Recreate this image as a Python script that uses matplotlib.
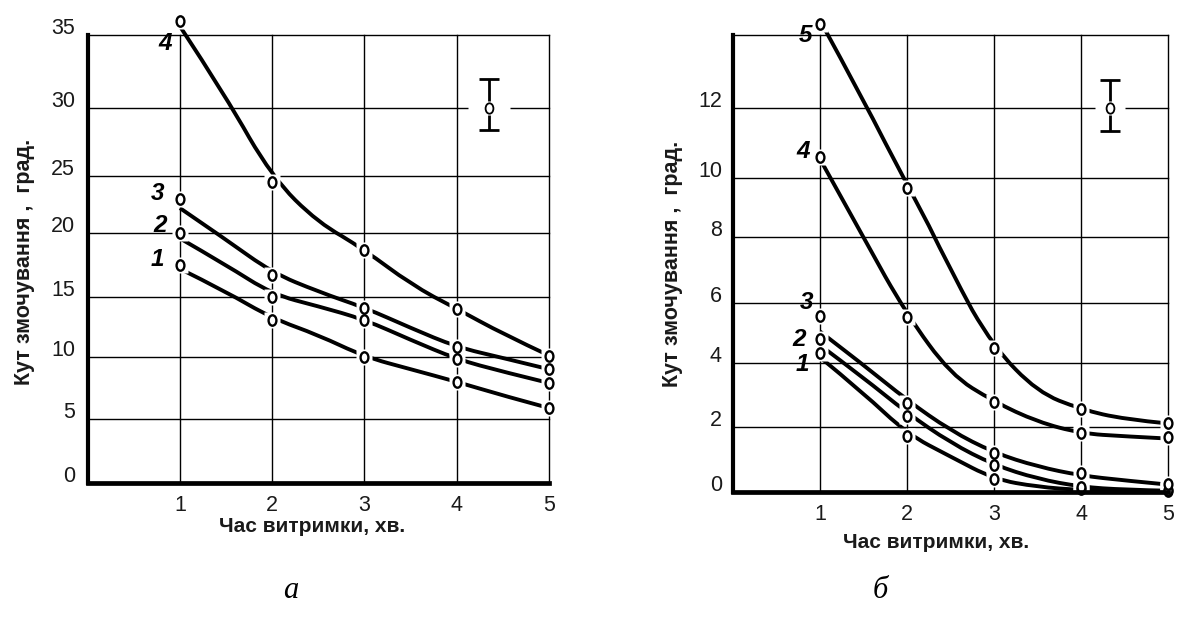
import matplotlib
matplotlib.use("Agg")
import numpy as np
import matplotlib.pyplot as plt
from matplotlib.transforms import ScaledTranslation
from matplotlib.path import Path
from matplotlib.patches import PathPatch

plt.rcParams['font.family'] = ['Liberation Sans', 'DejaVu Sans']

# ---------------- data: panel a ----------------
x_time = [1, 2, 3, 4, 5]                                  # measured points (markers)
x_line = [1, 1.5, 2, 2.5, 3, 3.5, 4, 4.5, 5]              # points

a_pts1 = [17.5, 13.1, 10.0, 8.0, 5.9]
a_pts2 = [20.0, 15.0, 13.1, 9.8, 7.9]
a_pts3 = [23.0, 16.7, 14.1, 10.8, 9.0]
a_pts4 = [36.0, 24.5, 18.7, 14.0, 10.1]

a_line1 = [17.2, 15.4, 13.2, 11.8, 10.0, 9.0, 8.0, 6.9, 5.9]
a_line2 = [19.6, 17.5, 15.2, 14.2, 13.1, 11.4, 9.8, 8.8, 7.9]
a_line3 = [22.2, 19.5, 16.9, 15.4, 14.1, 12.4, 10.8, 9.9, 9.0]
a_line4 = [35.6, 30.8, 24.9, 20.9, 18.7, 16.0, 14.0, 11.9, 10.1]

a_names = ["1", "2", "3", "4"]
a_yticks = [0, 5, 10, 15, 20, 25, 30, 35]
a_err_x, a_err_y, a_err_lo, a_err_hi = 4.35, 30.0, 1.6, 2.0
# spacing of the printed grid (value -> distance from the x-axis, px); it is not uniform
a_grid_vals = [-5, 0, 5, 10, 15, 20, 25, 30, 35, 40]
a_grid_pos = [-64, 0, 63.4, 126, 186, 249.4, 306.7, 374.4, 447.7, 520]

# ---------------- data: panel b ----------------
b_pts1 = [4.33, 1.72, 0.39, 0.08, 0.02]
b_pts2 = [4.8, 2.35, 0.83, 0.15, 0.06]
b_pts3 = [5.56, 2.75, 1.21, 0.57, 0.25]
b_pts4 = [10.62, 5.54, 2.8, 1.81, 1.7]
b_pts5 = [14.3, 9.67, 4.51, 2.56, 2.12]

b_line1 = [4.2, 3.07, 1.8, 1.09, 0.39, 0.15, 0.05, 0.02, 0.0]
b_line2 = [4.6, 3.55, 2.45, 1.52, 0.83, 0.4, 0.15, 0.06, 0.03]
b_line3 = [5.05, 3.95, 2.85, 1.9, 1.21, 0.78, 0.5, 0.35, 0.22]
b_line4 = [10.55, 8.0, 5.6, 3.65, 2.8, 2.17, 1.81, 1.72, 1.65]
b_line5 = [14.4, 12.23, 9.8, 7.0, 4.51, 3.1, 2.56, 2.25, 2.12]

b_names = ["1", "2", "3", "4", "5"]
b_yticks = [0, 2, 4, 6, 8, 10, 12, 14]
b_yticklabels = ["0", "2", "4", "6", "8", "10", "12", ""]
b_err_x, b_err_y, b_err_lo, b_err_hi = 4.33, 12.0, 0.66, 0.76
b_grid_vals = [-2, 0, 2, 4, 6, 8, 10, 12, 14, 16]
b_grid_pos = [-64.3, 0, 64.4, 128.4, 189, 254.4, 313.4, 383.4, 456.7, 529.7]

xticks = [1, 2, 3, 4, 5]
ylabel = "Кут змочування ,  град."
xlabel = "Час витримки, хв."

W, H = 1178, 621
fig = plt.figure(figsize=(W / 100, H / 100), dpi=100)
ax1 = fig.add_axes([87.7 / W, (H - 482.7) / H, (549 - 87.7) / W, (482.7 - 35) / H])
ax2 = fig.add_axes([733 / W, (H - 491.7) / H, (1168 - 733) / W, (491.7 - 35) / H])


def style(ax, ymax, yticks, yticklabels, ypad, gvals, gpos):
    gv = np.asarray(gvals, float)
    gp = np.asarray(gpos, float)
    ax.set_yscale("function", functions=(lambda v: np.interp(v, gv, gp),
                                         lambda u: np.interp(u, gp, gv)))
    ax.set_xlim(0, 5)
    ax.set_ylim(0, ymax)
    ax.set_xticks(xticks)
    ax.set_yticks(yticks)
    ax.set_yticklabels(yticklabels)
    ax.yaxis.set_minor_locator(matplotlib.ticker.NullLocator())
    for s in ["top", "right"]:
        ax.spines[s].set_visible(False)
    ax.spines["left"].set_linewidth(3.0)
    ax.spines["bottom"].set_linewidth(3.4)
    ax.spines["left"].set_zorder(6)
    ax.spines["bottom"].set_zorder(6)
    ax.tick_params(length=0, labelsize=15.5, colors="#1a1a1a")
    ax.tick_params(axis="y", pad=ypad)
    ax.tick_params(axis="x", pad=9)
    ax.grid(True, color="black", linewidth=1.0)
    ax.set_axisbelow(True)
    for gl in ax.get_xgridlines() + ax.get_ygridlines():
        gl.set_clip_on(False)
    off = ScaledTranslation(0, 6.5 / 72.0, fig.dpi_scale_trans)
    for lab in ax.get_yticklabels():
        lab.set_transform(lab.get_transform() + off)


style(ax1, 35, a_yticks, [str(v) for v in a_yticks], 9.0, a_grid_vals, a_grid_pos)
style(ax2, 14, b_yticks, b_yticklabels, 8.0, b_grid_vals, b_grid_pos)

circ = Path.unit_circle()
oval = Path(circ.vertices * [0.75, 1.0], circ.codes)


def smooth_curve(ax, xs, ys):
    """Smooth pen line through the read points (quadratic Bezier chain)."""
    verts = [(xs[0], ys[0])]
    codes = [Path.MOVETO]
    n = len(xs)
    for i in range(1, n - 1):
        if i == n - 2:
            end = (xs[-1], ys[-1])
        else:
            end = ((xs[i] + xs[i + 1]) / 2, (ys[i] + ys[i + 1]) / 2)
        verts += [(xs[i], ys[i]), end]
        codes += [Path.CURVE3, Path.CURVE3]
    patch = PathPatch(Path(verts, codes), facecolor="none", edgecolor="black",
                      linewidth=2.8, capstyle="butt", zorder=3, transform=ax.transData,
                      clip_on=False)
    ax.add_patch(patch)


def draw(ax, lines, pts, names, label_pos):
    for ly_vals, ys, name, (lx, ly) in zip(lines, pts, names, label_pos):
        smooth_curve(ax, x_line, ly_vals)
        ax.plot(x_time, ys, linestyle="none", marker="s", markersize=12,
                markerfacecolor="white", markeredgecolor="none", zorder=4, clip_on=False)
        ax.plot(x_time, ys, linestyle="none", marker=oval, markersize=7.5,
                markerfacecolor="white", markeredgecolor="black", markeredgewidth=1.7,
                zorder=5, clip_on=False)
        ax.text(lx, ly, name, ha="center", va="center", fontsize=17.5, fontweight="bold",
                fontstyle="italic", color="black", zorder=7, clip_on=False)


draw(ax1, [a_line1, a_line2, a_line3, a_line4], [a_pts1, a_pts2, a_pts3, a_pts4], a_names,
     [(0.76, 17.9), (0.78, 20.7), (0.76, 23.5), (0.84, 34.4)])
draw(ax2, [b_line1, b_line2, b_line3, b_line4, b_line5],
     [b_pts1, b_pts2, b_pts3, b_pts4, b_pts5], b_names,
     [(0.8, 3.95), (0.76, 4.8), (0.84, 6.0), (0.81, 10.77), (0.83, 14.0)])

rect = Path([(-1, -0.22), (1, -0.22), (1, 0.22), (-1, 0.22), (-1, -0.22)],
            [Path.MOVETO, Path.LINETO, Path.LINETO, Path.LINETO, Path.CLOSEPOLY])
for ax, ex, ey, elo, ehi, gap in [(ax1, a_err_x, a_err_y, a_err_lo, a_err_hi, 30),
                                  (ax2, b_err_x, b_err_y, b_err_lo, b_err_hi, 22)]:
    ax.plot([ex], [ey], linestyle="none", marker=rect, markersize=gap,
            markerfacecolor="white", markeredgecolor="none", zorder=3.5)
    ax.errorbar([ex], [ey], yerr=[[elo], [ehi]], fmt="none", ecolor="black",
                elinewidth=2.0, capsize=7.5, capthick=2.0, zorder=4)
    ax.plot([ex], [ey], linestyle="none", marker="s", markersize=10,
            markerfacecolor="white", markeredgecolor="none", zorder=4.5)
    ax.plot([ex], [ey], linestyle="none", marker=oval, markersize=7.5,
            markerfacecolor="white", markeredgecolor="black", markeredgewidth=1.3, zorder=5)

lab_kw = dict(fontsize=15, fontweight="bold", color="#1a1a1a")
fig.text(25 / W, 1 - 262 / H, ylabel, rotation=90, ha="center", va="center",
         **dict(lab_kw, fontsize=15.5))
fig.text(672 / W, 1 - 264 / H, ylabel, rotation=90, ha="center", va="center",
         **dict(lab_kw, fontsize=15.5))
fig.text(312 / W, 1 - 526 / H, xlabel, ha="center", va="center", **lab_kw)
fig.text(936 / W, 1 - 543 / H, xlabel, ha="center", va="center", **lab_kw)

cap_kw = dict(fontsize=22, fontstyle="italic", family=["Liberation Serif", "DejaVu Serif"],
              ha="center", va="center", color="black")
fig.text(291 / W, 1 - 590 / H, "а", **cap_kw)
fig.text(880 / W, 1 - 590 / H, "б", **cap_kw)

fig.savefig("out.png", dpi=100, facecolor="white")
